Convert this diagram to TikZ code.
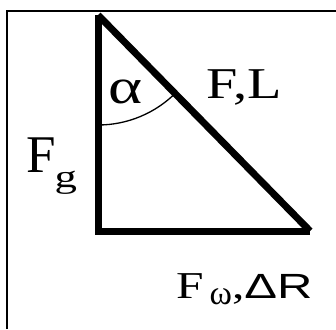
\documentclass[tikz,border=0pt]{standalone}
\usepackage{graphicx}
\usepackage{fontspec}
\setmainfont{Liberation Serif}
\newfontfamily\sansf{Liberation Sans}
\newcommand{\fsz}[1]{\fontsize{#1}{#1}\selectfont}
\begin{document}
\begin{tikzpicture}[x=1pt,y=-1pt,
  side/.style={line width=7pt,line cap=butt},
  lbl/.style={inner sep=0pt,anchor=base west}]
\useasboundingbox (0,0) rectangle (336,329);
% frame
\draw[line width=2pt] (7,329) -- (7,11) -- (336,11);
% triangle
\coordinate (A) at (98,15);
\coordinate (B) at (98,231);
\coordinate (C) at (310,231);
\draw[side] (98,234.5) -- (A);
\draw[side] (A) -- (C);
\draw[side] (B) -- (C);
% angle arc
\coordinate (S) at (98,125);
\draw[line width=1.3pt] (S) arc[start angle=90,end angle=45,radius=110];
% labels
\node[lbl] (alpha) at (108,103) {\scalebox{1.3}[1]{\fsz{50}α}};
\node[lbl] (FL) at (206,98) {\scalebox{1.28}[1]{\fsz{44}F,L}};
\node[lbl] (Fg) at (26,172) {\fsz{53}F\hspace{-1pt}\raisebox{-15pt}{\scalebox{1.4}[1]{\fsz{32}g}}};
\node[lbl] (Fw) at (176,298) {\scalebox{1.3}[1]{\fsz{38}F}\hspace{6pt}\raisebox{-6pt}{\fsz{34}ω}\scalebox{1.3}[1]{\fsz{38},}\scalebox{1.4}[1]{\sansf\fsz{35}ΔR}};
\end{tikzpicture}
\end{document}
